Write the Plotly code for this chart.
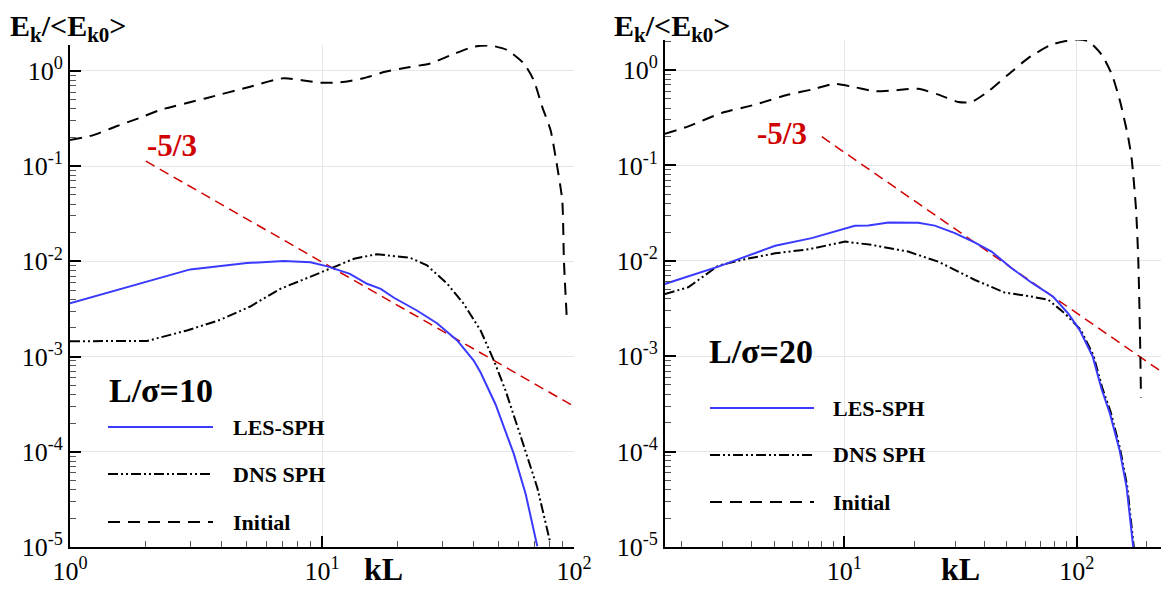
import plotly.graph_objects as go

# ---------------- data: left panel (L/sigma = 10) ----------------
kl_init_L = [1.0, 1.24, 1.51, 1.87, 2.28, 3.44, 5.19, 7.04, 9.85, 11.8, 14.6, 17.8, 21.8, 26.9,
             33.3, 40.0, 46.6, 54.3, 63.2, 69.2, 74.8, 80.7, 84.5, 89.8, 91.2, 93.5]
e_init_L = [0.188, 0.212, 0.26, 0.318, 0.39, 0.515, 0.684, 0.838, 0.753, 0.76, 0.838, 0.98, 1.09, 1.2,
            1.51, 1.8, 1.85, 1.66, 1.2, 0.8, 0.42, 0.24, 0.125, 0.044, 0.0102, 0.0027]

kl_les_L = [1.0, 3.0, 5.04, 7.04, 9.0, 10.5, 12.9, 15.1, 17.1, 19.3, 23.8, 28.6, 34.4, 40.0,
            42.6, 48.8, 57.7, 64.3, 71.5]
e_les_L = [0.00364, 0.00824, 0.0096, 0.0101, 0.0098, 0.00886, 0.0074, 0.00582, 0.00515, 0.00415,
           0.00305, 0.00224, 0.00148, 0.00091, 0.00068, 0.000316, 9.5e-5, 3.6e-5, 1.02e-5]

kl_dns_L = [1.0, 2.02, 2.91, 3.94, 5.19, 6.83, 9.27, 11.5, 13.4, 16.5, 22.4, 26.1, 31.4, 36.5,
            42.6, 48.1, 53.5, 62.3, 71.5, 80.2]
e_dns_L = [0.00145, 0.00146, 0.00188, 0.00243, 0.00336, 0.00515, 0.00713, 0.00908, 0.01066, 0.0119,
           0.0109, 0.00908, 0.00582, 0.00359, 0.00188, 0.00091, 0.00044, 1.3e-4, 4.2e-5, 1.16e-5]

kl_slope_L = [2.0, 100.0]
e_slope_L = [0.113, 0.0003]

# ---------------- data: right panel (L/sigma = 20) ----------------
kl_init_R = [1.69, 2.13, 2.97, 4.13, 5.75, 7.24, 9.12, 11.1, 13.6, 16.5, 20.8, 25.4, 30.9, 35.3,
             41.7, 50.8, 62.0, 78.0, 98.4, 112.0, 128.0, 141.6, 153.6, 166.7, 172.5, 180.0,
             184.0, 187.0, 189.0]
e_init_R = [0.214, 0.257, 0.355, 0.434, 0.553, 0.624, 0.716, 0.66, 0.6, 0.614, 0.635, 0.553, 0.463,
            0.463, 0.6, 0.9, 1.34, 1.85, 2.09, 2.01, 1.45, 0.9, 0.47, 0.194, 0.115, 0.0343,
            0.0102, 0.00186, 0.00037]

kl_les_R = [1.69, 2.87, 5.04, 7.24, 11.1, 12.7, 15.5, 20.8, 24.5, 29.9, 36.5, 43.0, 52.5, 64.0,
            79.2, 92.0, 103.0, 117.0, 128.0, 139.0, 153.0, 164.0, 175.0]
e_les_R = [0.00572, 0.0087, 0.0144, 0.0173, 0.0233, 0.0234, 0.0252, 0.025, 0.0234, 0.0195, 0.0155,
           0.0125, 0.00836, 0.0059, 0.0042, 0.0028, 0.00188, 0.001, 0.00045, 0.00025, 1.03e-4,
           4.2e-5, 1.0e-5]

kl_dns_R = [1.69, 2.13, 2.87, 3.74, 5.04, 7.0, 10.07, 13.1, 18.8, 25.4, 36.5, 49.1, 62.0, 75.5,
            89.0, 104.0, 118.0, 129.0, 140.0, 154.0, 165.0, 176.0]
e_dns_R = [0.00449, 0.00528, 0.0089, 0.0104, 0.012, 0.0132, 0.0159, 0.0147, 0.0125, 0.0098, 0.0063,
           0.00464, 0.00428, 0.0039, 0.0028, 0.0019, 0.00102, 0.00046, 0.00026, 1.05e-4, 4.3e-5, 1.0e-5]

kl_slope_R = [8.0, 250.0]
e_slope_R = [0.2, 0.000605]

major_x_L = [1, 10, 100]
major_x_R = [10, 100]
major_y = [1e-5, 1e-4, 1e-3, 1e-2, 1e-1, 1e0]
labels_x_L = ["10<sup>0</sup>", "10<sup>1</sup>", "10<sup>2</sup>"]
labels_x_R = ["10<sup>1</sup>", "10<sup>2</sup>"]
labels_y = ["10<sup>-5</sup>", "10<sup>-4</sup>", "10<sup>-3</sup>", "10<sup>-2</sup>",
            "10<sup>-1</sup>", "10<sup>0</sup>"]
legend_names = ["LES-SPH", "DNS SPH", "Initial"]

BLUE = "#3a3aff"
RED = "#d00000"
FONT = "Liberation Serif"
DASH_INIT = "12px,8px"
DASH_DNS = "10px,3px,2px,3px,2px,3px"
DASH_RED = "10px,6px"

fig = go.Figure()


def add_panel(xa, ya, kl_i, e_i, kl_l, e_l, kl_d, e_d, kl_s, e_s):
    fig.add_trace(go.Scatter(x=kl_s, y=e_s, mode="lines", xaxis=xa, yaxis=ya, showlegend=False,
                             line=dict(color=RED, width=1.5, dash=DASH_RED)))
    fig.add_trace(go.Scatter(x=kl_i, y=e_i, mode="lines", xaxis=xa, yaxis=ya, showlegend=False,
                             line=dict(color="black", width=2, dash=DASH_INIT, shape="spline", smoothing=0.6)))
    fig.add_trace(go.Scatter(x=kl_d, y=e_d, mode="lines", xaxis=xa, yaxis=ya, showlegend=False,
                             line=dict(color="black", width=2, dash=DASH_DNS)))
    fig.add_trace(go.Scatter(x=kl_l, y=e_l, mode="lines", xaxis=xa, yaxis=ya, showlegend=False,
                             line=dict(color=BLUE, width=2)))


add_panel("x", "y", kl_init_L, e_init_L, kl_les_L, e_les_L, kl_dns_L, e_dns_L, kl_slope_L, e_slope_L)
add_panel("x2", "y2", kl_init_R, e_init_R, kl_les_R, e_les_R, kl_dns_R, e_dns_R, kl_slope_R, e_slope_R)


def minor_vals(lo, hi):
    vals = []
    d = lo
    while d < hi:
        for m in range(2, 10):
            v = d * m
            if v <= hi:
                vals.append(v)
        d *= 10
    return vals


# the page body has an 8px margin: figure is sized to the visible area
OFF = 8
W, H = 1169 - OFF, 590 - OFF


def px_x(p):
    return (p - OFF) / W


def px_y(p):
    return (H - (p - OFF)) / H


tickfont = dict(family=FONT, size=26, color="black")
common_axis = dict(type="log", showline=True, linewidth=2, linecolor="black", ticks="inside",
                   ticklen=11, tickwidth=2, tickcolor="black", showgrid=True, gridcolor="#e6e6e6",
                   gridwidth=1, zeroline=False, tickfont=tickfont, mirror=False, automargin=False)

xL = dict(common_axis, range=[0, 2], domain=[px_x(70), px_x(574)], anchor="y",
          tickmode="array", tickvals=major_x_L, ticktext=labels_x_L,
          minor=dict(ticks="inside", ticklen=6, tickwidth=1, tickcolor="#555", tickvals=minor_vals(1, 100), showgrid=False))
yL = dict(common_axis, range=[-5, 0.273], domain=[px_y(547), px_y(45)], anchor="x",
          tickmode="array", tickvals=major_y, ticktext=labels_y,
          minor=dict(ticks="inside", ticklen=6, tickwidth=1, tickcolor="#555", tickvals=minor_vals(1e-5, 1.8), showgrid=False))
xR = dict(common_axis, range=[0.2285, 2.397], domain=[px_x(665), 1.0], anchor="y2",
          tickmode="array", tickvals=major_x_R, ticktext=labels_x_R,
          minor=dict(ticks="inside", ticklen=6, tickwidth=1, tickcolor="#555", tickvals=minor_vals(1, 240), showgrid=False))
yR = dict(common_axis, range=[-5, 0.315], domain=[px_y(547), px_y(40)], anchor="x2",
          tickmode="array", tickvals=major_y, ticktext=labels_y,
          minor=dict(ticks="inside", ticklen=6, tickwidth=1, tickcolor="#555", tickvals=minor_vals(1e-5, 2.0), showgrid=False))

shapes = []
annotations = []


def add_legend(x0, x1, ys, tx, box, title, title_xy):
    shapes.append(dict(type="rect", xref="paper", yref="paper", x0=px_x(box[0]), x1=px_x(box[1]),
                       y0=px_y(box[3]), y1=px_y(box[2]), fillcolor="white", line=dict(width=0),
                       layer="between"))
    styles = [dict(color=BLUE, width=2), dict(color="black", width=2, dash=DASH_DNS),
              dict(color="black", width=2, dash=DASH_INIT)]
    for name, yy, st in zip(legend_names, ys, styles):
        shapes.append(dict(type="line", xref="paper", yref="paper", x0=px_x(x0), x1=px_x(x1),
                           y0=px_y(yy), y1=px_y(yy), line=st))
        annotations.append(dict(xref="paper", yref="paper", x=px_x(tx), y=px_y(yy), xanchor="left",
                                yanchor="middle", showarrow=False, text=name,
                                font=dict(family=FONT, size=22, color="black", weight="bold")))
    annotations.append(dict(xref="paper", yref="paper", x=px_x(title_xy[0]), y=px_y(title_xy[1]),
                            xanchor="left", yanchor="middle", showarrow=False, text=title,
                            font=dict(family=FONT, size=34, color="black", weight="bold")))


add_legend(108, 213, [427, 474, 522], 231, [75, 340, 366, 542], "L/σ=10", (107, 390))
add_legend(710, 814, [408, 455, 502], 831, [668, 850, 330, 512], "L/σ=20", (707, 351))

# slope labels
annotations.append(dict(xref="paper", yref="paper", x=px_x(172), y=px_y(145), xanchor="center",
                        yanchor="middle", showarrow=False, text="-5/3",
                        font=dict(family=FONT, size=31, color=RED, weight="bold")))
annotations.append(dict(xref="paper", yref="paper", x=px_x(782), y=px_y(133), xanchor="center",
                        yanchor="middle", showarrow=False, text="-5/3",
                        font=dict(family=FONT, size=31, color=RED, weight="bold")))

# axis titles
ytitle = "E<sub>k</sub>/&lt;E<sub>k0</sub>&gt;"
annotations.append(dict(xref="paper", yref="paper", x=px_x(9), y=1.0, xanchor="left",
                        yanchor="top", showarrow=False, text=ytitle, borderpad=0,
                        font=dict(family=FONT, size=30, color="black", weight="bold")))
annotations.append(dict(xref="paper", yref="paper", x=px_x(613), y=1.0, xanchor="left",
                        yanchor="top", showarrow=False, text=ytitle, borderpad=0,
                        font=dict(family=FONT, size=30, color="black", weight="bold")))
annotations.append(dict(xref="paper", yref="paper", x=px_x(383), y=px_y(569), xanchor="center",
                        yanchor="middle", showarrow=False, text="kL",
                        font=dict(family=FONT, size=32, color="black", weight="bold")))
annotations.append(dict(xref="paper", yref="paper", x=px_x(960), y=px_y(569), xanchor="center",
                        yanchor="middle", showarrow=False, text="kL",
                        font=dict(family=FONT, size=32, color="black", weight="bold")))

fig.update_layout(
    width=W, height=H,
    margin=dict(l=0, r=0, t=0, b=0, autoexpand=False),
    paper_bgcolor="white", plot_bgcolor="white",
    xaxis=xL, yaxis=yL, xaxis2=xR, yaxis2=yR,
    shapes=shapes, annotations=annotations,
    showlegend=False,
    font=dict(family=FONT, color="black"),
)

fig.write_html("out.html")
